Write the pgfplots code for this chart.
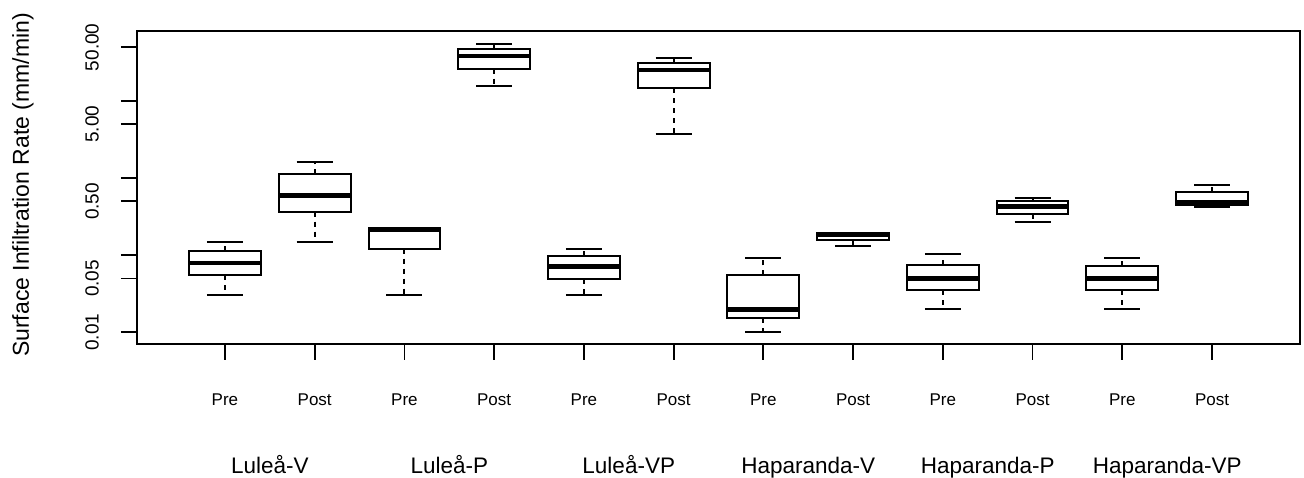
\documentclass[border=0pt]{standalone}
\usepackage{fontspec}
\setmainfont{Liberation Sans}
\usepackage{pgfplots}
\pgfplotsset{compat=1.18}
\usepgfplotslibrary{statistics}

% one R-style box: position, lower whisker, Q1, median, Q3, upper whisker
\newcommand{\rbox}[6]{%
  \addplot[black, line width=2bp, solid,
    boxplot prepared={draw position=#1,
      lower whisker=#2, lower quartile=#3, median=#4,
      upper quartile=#5, upper whisker=#6,
      box extend=0.8, whisker extend=0.4}]
    coordinates {};
}

\begin{document}
\begin{tikzpicture}
\useasboundingbox (0,0) rectangle (1304bp,478bp);
\begin{axis}[
  at={(137bp,134bp)}, anchor=south west,
  scale only axis, width=1163bp, height=313bp,
  xmin=0.02, xmax=12.98,
  ymode=log, ymin=0.00705, ymax=81.3,
  clip=false,
  axis line style={line width=1.8bp, black},
  tick style={line width=1.8bp, black},
  tick align=outside, tick pos=left,
  major tick length=16bp,
  xtick={1,...,12},
  xticklabels={Pre,Post,Pre,Post,Pre,Post,Pre,Post,Pre,Post,Pre,Post},
  xticklabel style={font=\fontsize{17bp}{20bp}\selectfont, anchor=center, yshift=-39.5bp},
  ytick={0.01,0.05,0.1,0.5,1,5,10,50},
  yticklabels={0.01,0.05,,0.50,,5.00,,50.00},
  minor ytick={},
  yticklabel style={font=\fontsize{19bp}{22bp}\selectfont, xshift=-29bp, rotate=90, anchor=center},
  /pgf/number format/assume math mode=true,
  extra x ticks={1.5,3.5,5.5,7.5,9.5,11.5},
  extra x tick labels={Luleå-V,Luleå-P,Luleå-VP,Haparanda-V,Haparanda-P,Haparanda-VP},
  extra x tick style={major tick length=0pt,
    xticklabel style={font=\fontsize{22.5bp}{26bp}\selectfont, anchor=base, yshift=-89.5bp}},
  ylabel={Surface Infiltration Rate (mm/min)},
  ylabel style={at={(axis description cs:-0.098,0.508)}, anchor=center,
    font=\fontsize{23bp}{27bp}\selectfont},
  boxplot/draw direction=y,
  boxplot/every box/.style={line width=2bp},
  boxplot/every median/.style={line width=4.8bp},
  boxplot/draw/lower whisker/.code={%
    \draw[black, line width=2bp, dash pattern=on 5bp off 5bp]
      (boxplot box cs:\pgfplotsboxplotvalue{lower quartile},0.5) --
      (boxplot box cs:\pgfplotsboxplotvalue{lower whisker},0.5);
    \draw[black, line width=2bp]
      (boxplot whisker cs:\pgfplotsboxplotvalue{lower whisker},0) --
      (boxplot whisker cs:\pgfplotsboxplotvalue{lower whisker},1);
  },
  boxplot/draw/upper whisker/.code={%
    \draw[black, line width=2bp, dash pattern=on 5bp off 5bp]
      (boxplot box cs:\pgfplotsboxplotvalue{upper quartile},0.5) --
      (boxplot box cs:\pgfplotsboxplotvalue{upper whisker},0.5);
    \draw[black, line width=2bp]
      (boxplot whisker cs:\pgfplotsboxplotvalue{upper whisker},0) --
      (boxplot whisker cs:\pgfplotsboxplotvalue{upper whisker},1);
  },
]
% Lulea-V
\rbox{1}{0.0308}{0.0549}{0.0793}{0.1146}{0.1486}
\rbox{2}{0.150}{0.3674}{0.593}{1.124}{1.608}
% Lulea-P
\rbox{3}{0.0308}{0.1216}{0.213}{0.224}{0.224}
\rbox{4}{15.58}{26.38}{38.55}{47.1}{55.67}
% Lulea-VP
\rbox{5}{0.0305}{0.0487}{0.0710}{0.0978}{0.1206}
\rbox{6}{3.713}{14.68}{25.37}{31.27}{36.3}
% Haparanda-V
\rbox{7}{0.0100}{0.0152}{0.0199}{0.0549}{0.0929}
\rbox{8}{0.1330}{0.1578}{0.1832}{0.1945}{0.1945}
% Haparanda-P
\rbox{9}{0.0199}{0.0354}{0.0496}{0.0747}{0.1029}
\rbox{10}{0.2677}{0.3462}{0.4267}{0.506}{0.558}
% Haparanda-VP
\rbox{11}{0.0199}{0.0354}{0.0496}{0.0719}{0.0929}
\rbox{12}{0.429}{0.449}{0.481}{0.656}{0.816}
\end{axis}
\end{tikzpicture}
\end{document}
